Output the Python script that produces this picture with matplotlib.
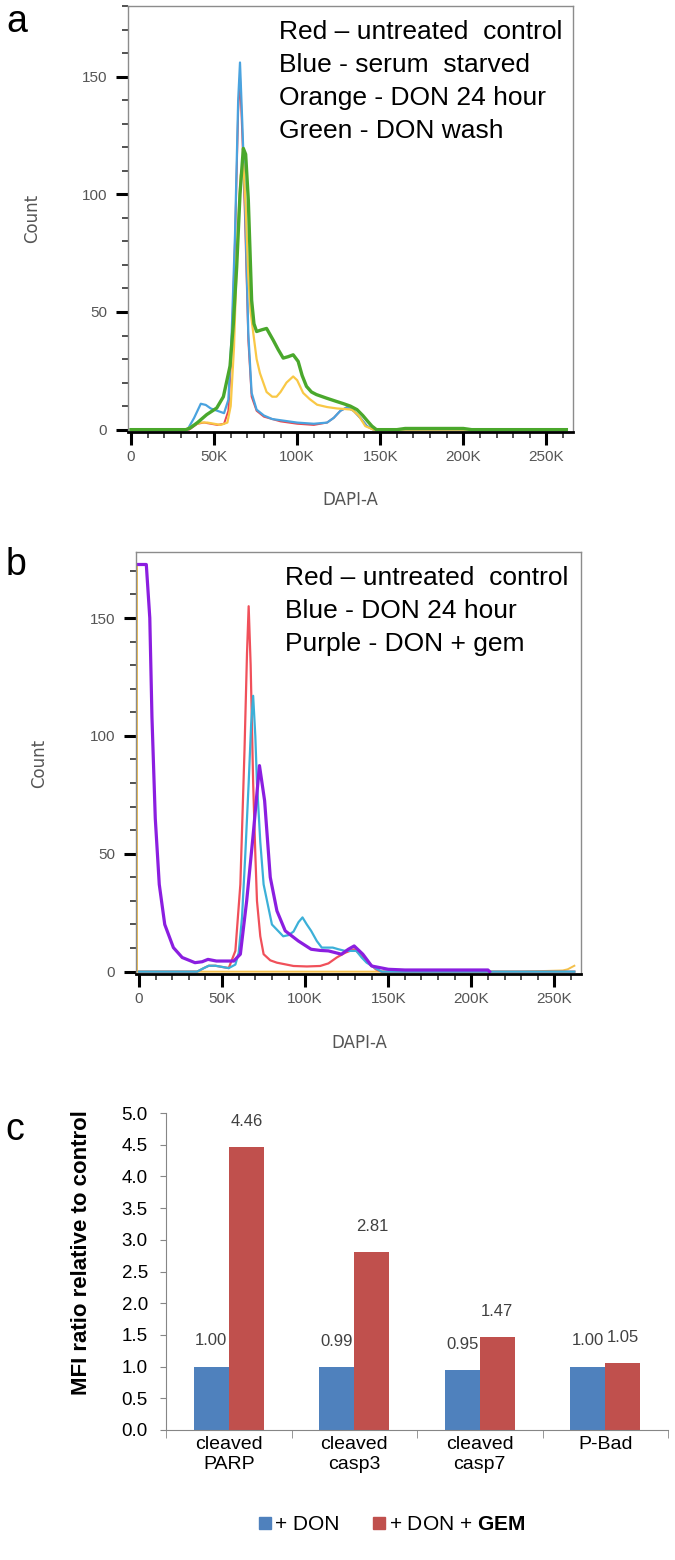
import matplotlib
matplotlib.use('Agg')
import matplotlib.pyplot as plt
import numpy as np
from matplotlib.ticker import MultipleLocator, FuncFormatter, FixedLocator
from matplotlib.lines import Line2D

plt.rcParams['font.family'] = ['Liberation Sans', 'DejaVu Sans']
plt.rcParams['mathtext.fontset'] = 'custom'
plt.rcParams['mathtext.rm'] = 'Liberation Sans'
plt.rcParams['mathtext.bf'] = 'Liberation Sans:bold'

# ---- panel a : DAPI histograms (x in K) ----
a_red_x = [0, 35, 40, 44, 48, 52, 56, 58.6, 60.6, 62.6, 64.5, 65.6, 67, 68.6, 70.6, 72.6, 75.6, 80, 85, 90,
           100, 110, 118, 122, 126, 130, 134, 138, 142, 146, 262]
a_red_y = [0, 0, 2.5, 3, 2.5, 2, 2.5, 8, 35, 80, 135, 150, 125, 90, 38, 14, 8, 5.5, 4.5, 3.5,
           2.5, 2, 3, 5, 8, 9.5, 8, 5, 1.5, 0, 0]

a_blue_x = [0, 34, 38, 42, 45, 48, 52, 56, 58.6, 60.6, 62.6, 64.5, 65.6, 67, 68.6, 70.6, 72.6, 75.6, 80, 85,
            90, 100, 110, 118, 122, 126, 130, 134, 138, 142, 146, 262]
a_blue_y = [0, 0, 5, 11, 10.5, 9, 8, 7, 12.7, 41, 83, 140, 156, 130, 97.6, 41, 15.6, 8.5, 6, 4.5,
            4, 3, 2.5, 3, 5, 8, 9.5, 8, 5, 1.5, 0, 0]

a_orange_x = [0, 33, 38, 42, 46, 50, 54, 58, 60, 62, 64, 66, 67.6, 69, 70.6, 72, 73.6, 75.6, 77.6, 81.6,
              85, 87.6, 90, 93.6, 97.6, 100, 103.6, 107.5, 112, 118, 124, 128, 133, 137, 141, 146, 262]
a_orange_y = [0, 0, 2, 3, 3, 2.5, 2, 3, 10, 35, 80, 108, 113, 95, 65, 50, 41, 30, 24, 16,
              14, 14, 16, 20, 22.6, 21, 15.6, 13, 10.6, 9.6, 9, 8.8, 8.5, 6, 1.5, 0, 0]

a_green_x = [0, 33, 35.6, 40, 45.6, 51.6, 55.6, 59.6, 61.6, 63.6, 65.6, 67.6, 69, 70.6, 72.6, 74, 75.6, 78.6,
             81.6, 85.6, 88.6, 91.6, 94.6, 97.6, 100.6, 103, 105.6, 108.6, 111.6, 117.6, 123.6, 128, 132, 136,
             139.5, 142.5, 145, 147.7, 160, 165, 200, 205, 262]
a_green_y = [0, 0, 0.7, 3, 6.4, 9.2, 14, 27, 45, 69, 100, 119.5, 117, 97.6, 55, 45, 41.7, 42.4,
             43, 38, 34, 30.4, 31, 31.8, 29, 23, 18.4, 16, 14.9, 13.4, 12, 11, 10, 8.5,
             6, 3.5, 1.5, 0, 0, 0.5, 0.5, 0, 0]

a_legend = ['Red \u2013 untreated  control', 'Blue - serum  starved', 'Orange - DON 24 hour', 'Green - DON wash']

# ---- panel b ----
b_orange_x = [-1.2, -1.2, 0, 205, 230, 255, 258, 262]
b_orange_y = [172, 0, 0, 0, 0, 0.5, 1, 2.5]

b_red_x = [0, 35, 39, 42, 46, 50, 54, 58, 61, 63.5, 65, 66, 67.2, 68.7, 70, 71, 73, 75, 79, 83, 93, 101, 109,
           114, 119, 124, 129.5, 133, 137, 142.5, 146, 262]
b_red_y = [0, 0, 1.5, 2.5, 2.5, 2, 1.5, 8.8, 37, 94, 135, 155, 130, 80, 50, 30, 15, 7.4, 4.8, 3.8, 2.4, 2.2, 2.4,
           3.5, 6, 8, 9.5, 7.5, 4.5, 1, 0, 0]

b_blue_x = [0, 35, 39, 42, 46, 50, 54, 58, 60, 62, 64, 66, 67.5, 68.7, 70, 71, 73, 75, 80, 86.8, 90, 93, 96,
            98.4, 101, 103.6, 107, 110, 116.6, 120, 124, 130.8, 134, 137, 142.5, 146, 262]
b_blue_y = [0, 0, 1.5, 2.5, 2.5, 2, 1.5, 3, 8, 23, 50, 80, 105, 117, 100, 80, 55, 37, 20, 15, 15.5, 17, 21,
            23, 20, 17.3, 13, 10.2, 10.2, 9.5, 8.8, 8.8, 6, 3.8, 1.4, 0, 0]

b_purple_x = [-1.2, 4.4, 6.5, 7.8, 9.8, 12.2, 15.5, 20.7, 26, 33.7, 38, 41.5, 46.6, 52, 57, 61, 64.8, 68.7,
              72.5, 75.6, 79, 83, 88, 95.9, 103.6, 109, 114, 121.8, 126, 129.5, 134.7, 140, 150, 160, 210, 211]
b_purple_y = [172.7, 172.7, 150, 108, 65, 37, 20, 10.2, 6, 3.8, 4.2, 5.2, 4.5, 4.5, 4.5, 7.4, 30, 58,
              87.4, 72.5, 40, 25.8, 17.3, 13, 9.5, 9, 8.8, 7.4, 9.5, 10.9, 7.4, 2.4, 1, 0.7, 0.7, 0]

b_legend = ['Red \u2013 untreated  control', 'Blue - DON 24 hour', 'Purple - DON + gem']

# ---- panel c ----
categories = ['cleaved\nPARP', 'cleaved\ncasp3', 'cleaved\ncasp7', 'P-Bad']
don = [1.00, 0.99, 0.95, 1.00]
don_gem = [4.46, 2.81, 1.47, 1.05]
series_names = ['+ DON', '+ DON + $\\mathbf{GEM}$']

W, H = 675, 1560
fig = plt.figure(figsize=(W / 100, H / 100), dpi=100)


def rect(l, t, r, b):
    return [l / W, 1 - b / H, (r - l) / W, (b - t) / H]


def flow_axes(ax, ytop):
    ax.set_xlim(-1800, 266000)
    ax.set_ylim(-1, ytop)
    ax.xaxis.set_major_locator(MultipleLocator(50000))
    ax.xaxis.set_minor_locator(MultipleLocator(10000))
    ax.yaxis.set_major_locator(MultipleLocator(50))
    ax.yaxis.set_minor_locator(MultipleLocator(10))
    ax.xaxis.set_major_formatter(FuncFormatter(lambda v, p: '0' if v == 0 else '%dK' % round(v / 1000)))
    for s in ax.spines.values():
        s.set_color('#8c8c8c')
        s.set_linewidth(1)
    ax.spines['bottom'].set_color('black')
    ax.spines['bottom'].set_linewidth(2)
    ax.tick_params(which='major', length=9, width=2.2, color='black', labelsize=11, labelcolor='#555555')
    ax.tick_params(which='minor', length=4.5, width=1.2, color='#333333')
    ax.tick_params(axis='y', which='major', pad=6)
    ax.tick_params(axis='x', which='major', pad=4)


def k(xs):
    return np.array(xs) * 1000


# panel a
axa = fig.add_axes(rect(128, 6, 573, 432))
axa.plot(k(a_red_x), a_red_y, color='#e8474f', lw=1.4)
axa.plot(k(a_blue_x), a_blue_y, color='#4aa3df', lw=1.6)
axa.plot(k(a_orange_x), a_orange_y, color='#f9c846', lw=1.6)
axa.plot(k(a_green_x), a_green_y, color='#4aa82c', lw=2.4)
flow_axes(axa, 180)
for i, t in enumerate(a_legend):
    fig.text(279 / W, 1 - (32 + 33 * i) / H, t, fontsize=19, va='center', ha='left')
fig.text(32 / W, 1 - 218 / H, 'Count', rotation=90, fontsize=12, color='#555555',
         family='DejaVu Sans', va='center', ha='center')
fig.text(350 / W, 1 - 500 / H, 'DAPI-A', fontsize=12, color='#555555', family='DejaVu Sans',
         va='center', ha='center')
fig.text(6 / W, 1 - 32 / H, 'a', fontsize=27, va='baseline', ha='left')

# panel b
axb = fig.add_axes(rect(136, 552, 581, 974))
axb.plot(k(b_orange_x), b_orange_y, color='#f4c04a', lw=1.4)
axb.plot(k(b_red_x), b_red_y, color='#f0505a', lw=1.6)
axb.plot(k(b_blue_x), b_blue_y, color='#3cb0d8', lw=1.6)
axb.plot(k(b_purple_x), b_purple_y, color='#8b1ee0', lw=2.3)
flow_axes(axb, 178)
for i, t in enumerate(b_legend):
    fig.text(285 / W, 1 - (578 + 33 * i) / H, t, fontsize=19, va='center', ha='left')
fig.text(39 / W, 1 - 763 / H, 'Count', rotation=90, fontsize=12, color='#555555',
         family='DejaVu Sans', va='center', ha='center')
fig.text(359 / W, 1 - 1043 / H, 'DAPI-A', fontsize=12, color='#555555', family='DejaVu Sans',
         va='center', ha='center')
fig.text(6 / W, 1 - 575 / H, 'b', fontsize=27, va='baseline', ha='left')

# panel c
axc = fig.add_axes(rect(166, 1113, 668, 1430))
xc = np.arange(len(categories))
w = 0.28
axc.bar(xc - w / 2, don, w, color='#4f81bd')
axc.bar(xc + w / 2, don_gem, w, color='#c0504d')
for x, v in zip(xc - w / 2, don):
    axc.annotate('%.2f' % v, (x, v), xytext=(0, 18.5), textcoords='offset points',
                 ha='center', va='center', fontsize=12, color='#404040')
for x, v in zip(xc + w / 2, don_gem):
    axc.annotate('%.2f' % v, (x, v), xytext=(0, 18.5), textcoords='offset points',
                 ha='center', va='center', fontsize=12, color='#404040')
axc.set_xlim(-0.5, 3.5)
axc.set_ylim(0, 5)
axc.yaxis.set_major_locator(MultipleLocator(0.5))
axc.yaxis.set_major_formatter(FuncFormatter(lambda v, p: '%.1f' % v))
axc.set_xticks(xc)
axc.set_xticklabels(categories, fontsize=14, linespacing=1.25)
axc.xaxis.set_minor_locator(FixedLocator(np.arange(-0.5, 3.6, 1.0)))
axc.tick_params(axis='x', which='major', length=0, pad=4)
axc.tick_params(axis='x', which='minor', length=6, color='#868686')
axc.tick_params(axis='y', length=4, color='#868686', labelsize=13.5, pad=9)
for s in ['top', 'right']:
    axc.spines[s].set_visible(False)
for s in ['left', 'bottom']:
    axc.spines[s].set_color('#868686')
fig.text(82 / W, 1 - 1253 / H, 'MFI ratio relative to control', rotation=90, fontsize=16,
         fontweight='bold', va='center', ha='center')
fig.text(5 / W, 1 - 1140 / H, 'c', fontsize=27, va='baseline', ha='left')

handles = [Line2D([], [], marker='s', linestyle='none', markersize=9, color='#4f81bd'),
           Line2D([], [], marker='s', linestyle='none', markersize=9, color='#c0504d')]
fig.legend(handles, series_names, loc='center', bbox_to_anchor=(391 / W, 1 - 1525 / H), ncol=2,
           frameon=False, fontsize=15, handletextpad=0.1, columnspacing=1.5, handlelength=0.8)

fig.savefig('out.png', dpi=100)
